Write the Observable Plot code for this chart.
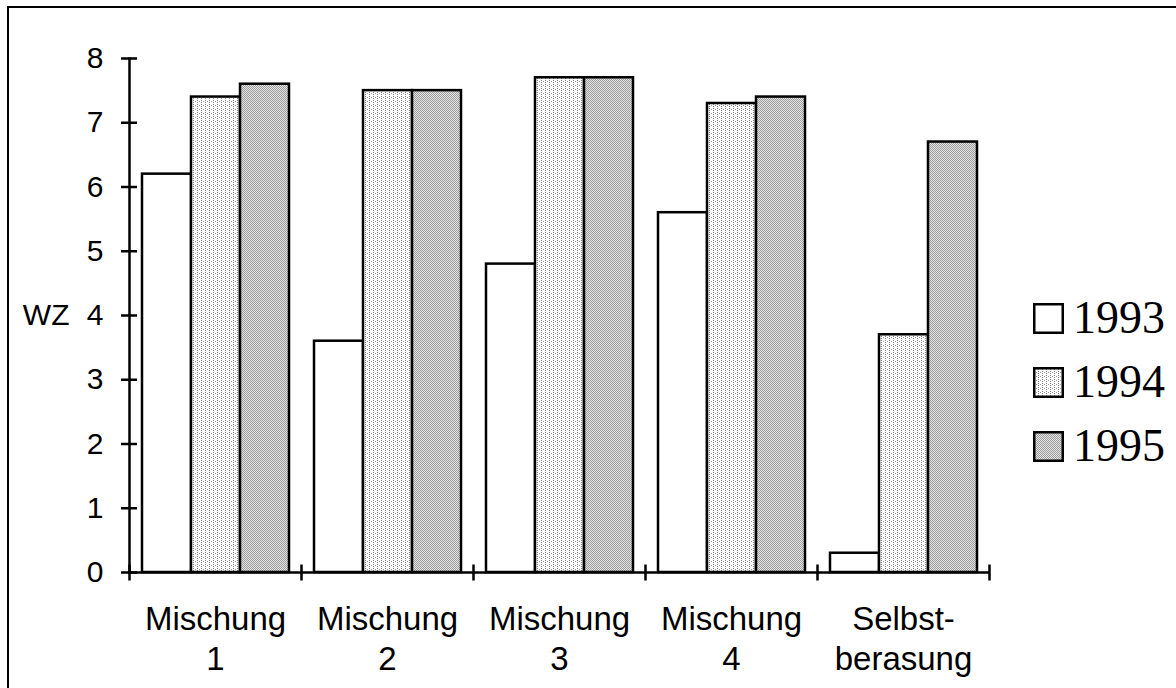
<!DOCTYPE html>
<html>
<head>
<meta charset="utf-8">
<script src="https://cdn.jsdelivr.net/npm/d3@7"></script>
<script src="https://cdn.jsdelivr.net/npm/@observablehq/plot@0.6"></script>
<style>
  html, body { margin: 0; padding: 0; background: #fff; }
  #wrap { position: relative; width: 1176px; height: 688px; overflow: hidden; background: #fff; }
  #frame { position: absolute; left: 7px; top: 6px; width: 1300px; height: 900px;
           border-left: 2.5px solid #000; border-top: 2.5px solid #000; pointer-events: none; }
  #chart { position: absolute; left: 0; top: 0; }
  #legend { position: absolute; left: 1033px; top: 286px;
            font-family: "Liberation Serif", "Times New Roman", serif; font-size: 46px; color: #000; }
  .row { height: 64px; line-height: 64px; display: flex; align-items: center; }
  .row svg { display: block; margin-right: 9px; }
</style>
</head>
<body>
<svg width="0" height="0" style="position:absolute">
  <defs>
    <pattern id="p94" width="4" height="4" patternUnits="userSpaceOnUse">
      <rect width="4" height="4" fill="#ffffff"></rect>
      <rect x="1" y="0" width="1" height="1" fill="#808080"></rect>
      <rect x="1" y="2" width="1" height="1" fill="#808080"></rect>
      <rect x="3" y="1" width="1" height="1" fill="#9a9a9a"></rect>
    </pattern>
    <pattern id="p95" width="2" height="2" patternUnits="userSpaceOnUse">
      <rect width="2" height="2" fill="#e4e4e4"></rect>
      <rect x="0" y="0" width="1" height="1" fill="#9c9c9c"></rect>
      <rect x="1" y="1" width="1" height="1" fill="#9c9c9c"></rect>
    </pattern>
  </defs>
</svg>
<div id="wrap">
  <div id="chart"></div>
  <div id="legend"></div>
  <div id="frame"></div>
</div>
<script>
// ---- data ----
const groups = ["Mischung 1", "Mischung 2", "Mischung 3", "Mischung 4", "Selbstberasung"];
const groupLabels = ["Mischung\n1", "Mischung\n2", "Mischung\n3", "Mischung\n4", "Selbst-\nberasung"];
const years = ["1993", "1994", "1995"];
const v1993 = [6.2, 3.6, 4.8, 5.6, 0.3];
const v1994 = [7.4, 7.5, 7.7, 7.3, 3.7];
const v1995 = [7.6, 7.5, 7.7, 7.4, 6.7];
const yTicks = [0, 1, 2, 3, 4, 5, 6, 7, 8];
const yLabel = "WZ";
const fills = ["#ffffff", "url(#p94)", "url(#p95)"];

const series = {"1993": v1993, "1994": v1994, "1995": v1995};
const data = groups.flatMap((g, i) => years.map(y => ({group: g, year: y, value: series[y][i]})));

// vertical line symbol for group boundary ticks
const vline = {draw(ctx, size) { const r = Math.sqrt(size / Math.PI); ctx.moveTo(0, -r); ctx.lineTo(0, r); }};

const plot = Plot.plot({
  width: 1000,
  height: 688,
  marginLeft: 129,
  marginRight: 11,
  marginTop: 58,
  marginBottom: 116,
  style: {fontFamily: '"Liberation Sans", Arial, sans-serif', color: "#000", background: "transparent", overflow: "visible"},
  fx: {domain: groups, padding: 0, label: null},
  x: {domain: years, paddingInner: 0, paddingOuter: 0.245, axis: null},
  y: {domain: [0, 8]},
  color: {domain: years, range: fills},
  marks: [
    Plot.barY(data, {fx: "group", x: "year", y: "value", fill: "year", stroke: "#000", strokeWidth: 2.5}),
    Plot.ruleY([0], {stroke: "#000", strokeWidth: 2.5}),
    Plot.frame({anchor: "left", facetAnchor: "left", stroke: "#000", strokeWidth: 2.5}),
    Plot.axisY({ticks: yTicks, tickSize: 16, dx: 8, tickPadding: 18, fontSize: 30, strokeWidth: 2.5,
                tickFormat: d => String(d), label: null, facetAnchor: "left"}),
    Plot.dot([0], {frameAnchor: "bottom-left", symbol: vline, r: 8, stroke: "#000", strokeWidth: 2.5}),
    Plot.dot([0], {frameAnchor: "bottom-right", symbol: vline, r: 8, stroke: "#000", strokeWidth: 2.5, facetAnchor: "right"}),
    Plot.axisFx({anchor: "bottom", tickSize: 0, tickPadding: 28, fontSize: 33, lineHeight: 1.24,
                 tickFormat: d => groupLabels[groups.indexOf(d)], label: null}),
    Plot.text([yLabel], {text: d => d, frameAnchor: "left", dx: -60, textAnchor: "end", fontSize: 30, facetAnchor: "left"})
  ]
});
document.getElementById("chart").appendChild(plot);

// ---- legend ----
const legend = d3.select("#legend");
years.forEach((y, i) => {
  const row = legend.append("div").attr("class", "row");
  const s = row.append("svg").attr("width", 31).attr("height", 31);
  s.append("rect").attr("x", 1.25).attr("y", 1.25).attr("width", 28.5).attr("height", 28.5)
    .attr("fill", fills[i]).attr("stroke", "#000").attr("stroke-width", 2.5);
  row.append("span").text(y);
});
</script>
</body>
</html>
